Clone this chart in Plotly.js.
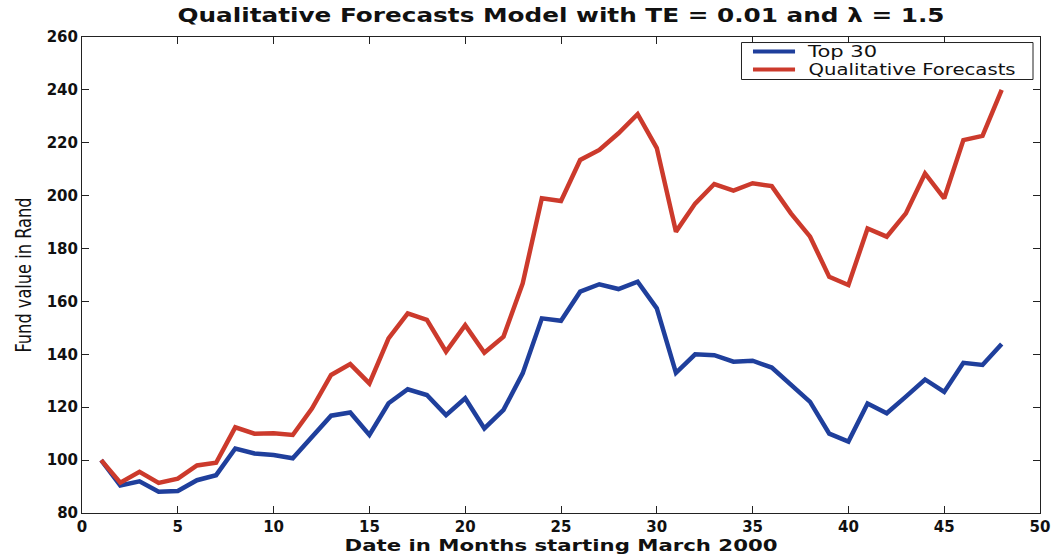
<!DOCTYPE html>
<html>
<head>
<meta charset="utf-8">
<script src="https://cdn.plot.ly/plotly-3.0.1.min.js"></script>
<style>
  html, body { margin: 0; padding: 0; background: #ffffff; }
  #chart { width: 1062px; height: 558px; }
</style>
</head>
<body>
<div id="chart"></div>
<script>
// Monthly fund values (Rand), starting March 2000
const months = [1,2,3,4,5,6,7,8,9,10,11,12,13,14,15,16,17,18,19,20,21,22,23,24,
                25,26,27,28,29,30,31,32,33,34,35,36,37,38,39,40,41,42,43,44,45,46,47,48];

const top30 = [100,90.4,92,88,88.3,92.4,94.3,104.4,102.5,101.9,100.7,108.8,116.8,118,109.5,121.5,
               126.8,124.6,117,123.4,112,119,132.8,153.6,152.7,163.7,166.5,164.7,167.5,157.4,133,140,
               139.7,137.2,137.6,135,128.4,122,110,107,121.4,117.7,124,130.5,125.8,136.8,136,143.9];

const qualForecasts = [100,91.5,95.6,91.4,93,98,99,112.4,110,110.2,109.5,119.5,132.2,136.3,129,146,
                       155.5,153,141,151,140.6,146.7,166.8,199,198,213.5,217.3,223.6,230.8,218,186.4,197,
                       204.4,201.9,204.7,203.6,193.3,184.5,169.3,166.2,187.6,184.5,193.3,208.4,199,221,222.6,240];

const seriesNames = ["Top 30", "Qualitative Forecasts"];
const seriesColors = ["#1f3f9c", "#cc3a2c"];
const xTicks = [0,5,10,15,20,25,30,35,40,45,50];
const yTicks = [80,100,120,140,160,180,200,220,240,260];

const sans = "DejaVu Sans, Liberation Sans, sans-serif";
const tickFont = { family: sans, size: 15, weight: "bold", color: "#111111" };

const traces = [
  { x: months, y: top30, name: seriesNames[0], type: "scatter", mode: "lines",
    line: { color: seriesColors[0], width: 4.5 } },
  { x: months, y: qualForecasts, name: seriesNames[1], type: "scatter", mode: "lines",
    line: { color: seriesColors[1], width: 4.5 } }
];

const axisCommon = {
  showgrid: false, zeroline: false, showline: true, linecolor: "#222222", linewidth: 1,
  mirror: "ticks", ticks: "inside", ticklen: 7, tickcolor: "#222222", tickwidth: 1,
  tickfont: tickFont
};

// Boxed legend in the upper-right corner of the axes (paper coordinates)
const legendBox = { x0: 0.6884, x1: 0.9927, y0: 0.9107, y1: 0.9884 };
const legendRows = [
  { y: 0.9695, lineX: [0.7004, 0.7443], textX: 0.7938 },
  { y: 0.9317, lineX: [0.7004, 0.7443], textX: 0.8659 }
];

const shapes = [
  { type: "rect", xref: "paper", yref: "paper",
    x0: legendBox.x0, x1: legendBox.x1, y0: legendBox.y0, y1: legendBox.y1,
    line: { color: "#222222", width: 1 }, fillcolor: "#ffffff", layer: "above" }
];
const annotations = [];
legendRows.forEach((row, i) => {
  shapes.push({ type: "line", xref: "paper", yref: "paper",
    x0: row.lineX[0], x1: row.lineX[1], y0: row.y, y1: row.y,
    line: { color: seriesColors[i], width: 4 }, layer: "above" });
  annotations.push({ xref: "paper", yref: "paper", x: row.textX, y: row.y,
    xanchor: "center", yanchor: "middle", showarrow: false, text: seriesNames[i],
    font: { family: sans, size: 15, color: "#111111" } });
});

const layout = {
  width: 1062, height: 558,
  margin: { l: 82, r: 22, t: 37, b: 45 },
  paper_bgcolor: "#ffffff", plot_bgcolor: "#ffffff",
  showlegend: false,
  title: {
    text: "Qualitative Forecasts Model with TE = 0.01 and \u03bb = 1.5",
    font: { family: sans, size: 19, weight: "bold", color: "#111111" },
    xref: "paper", x: 0.5, xanchor: "center",
    yref: "container", y: 0.972, yanchor: "middle"
  },
  xaxis: Object.assign({}, axisCommon, {
    range: [0, 50], tickmode: "array", tickvals: xTicks, ticktext: xTicks.map(String),
    title: { text: "Date in Months starting March 2000", standoff: 2,
             font: { family: sans, size: 16, weight: "bold", color: "#111111" } }
  }),
  yaxis: Object.assign({}, axisCommon, {
    range: [80, 260], tickmode: "array", tickvals: yTicks, ticktext: yTicks.map(String),
    title: { text: "Fund value in Rand", standoff: 9,
             font: { family: "Liberation Sans Narrow, DejaVu Sans Condensed, sans-serif", size: 21, color: "#111111" } }
  }),
  shapes: shapes,
  annotations: annotations
};

// Set the printed run length of a text element
function stretchText(el, length) {
  if (!el) return;
  el.setAttribute("textLength", length);
  el.setAttribute("lengthAdjust", "spacingAndGlyphs");
}

Plotly.newPlot("chart", traces, layout, { displayModeBar: false, staticPlot: true }).then(gd => {
  stretchText(gd.querySelector(".gtitle"), 767);
  stretchText(gd.querySelector(".xtitle"), 433);
  stretchText(gd.querySelector(".ytitle"), 155);
  const labels = gd.querySelectorAll(".annotation-text");
  const widths = [69, 207];
  labels.forEach((el, i) => stretchText(el, widths[i]));
});
</script>
</body>
</html>
